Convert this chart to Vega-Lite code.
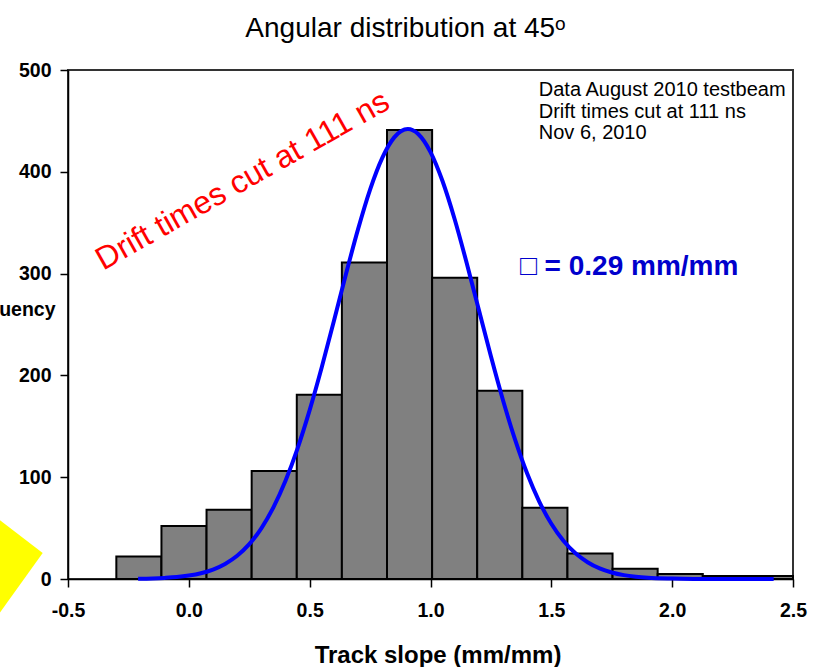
{
  "$schema": "https://vega.github.io/schema/vega-lite/v6.json",
  "autosize": "none",
  "width": 725,
  "height": 509,
  "padding": {"left": 68, "top": 70, "right": 28, "bottom": 88},
  "title": {
    "text": "Angular distribution at 45ᵒ",
    "font": "Liberation Sans",
    "fontSize": 28,
    "fontWeight": "normal",
    "color": "#000000",
    "anchor": "middle",
    "frame": "group",
    "baseline": "alphabetic",
    "dx": -25,
    "offset": -5
  },
  "config": {
    "font": "Liberation Sans",
    "view": {"stroke": "#333333", "strokeWidth": 2},
    "axis": {"grid": false, "labelFlush": false, "labelOverlap": false, "domainColor": "#000000", "domainWidth": 1.5, "tickColor": "#000000", "tickWidth": 1.5, "tickSize": 8, "labelFont": "Liberation Sans", "labelFontWeight": "bold", "labelFontSize": 19.5, "labelColor": "#000000", "titleFont": "Liberation Sans", "titleFontWeight": "bold", "titleColor": "#000000"}
  },
  "datasets": {
    "bars": [
      {"start": -0.3, "end": -0.1133, "count": 22},
      {"start": -0.1133, "end": 0.0733, "count": 52},
      {"start": 0.0733, "end": 0.26, "count": 68},
      {"start": 0.26, "end": 0.4467, "count": 106},
      {"start": 0.4467, "end": 0.6333, "count": 181},
      {"start": 0.6333, "end": 0.82, "count": 311},
      {"start": 0.82, "end": 1.0067, "count": 441},
      {"start": 1.0067, "end": 1.1933, "count": 296},
      {"start": 1.1933, "end": 1.38, "count": 185},
      {"start": 1.38, "end": 1.5667, "count": 70},
      {"start": 1.5667, "end": 1.7533, "count": 25},
      {"start": 1.7533, "end": 1.94, "count": 10},
      {"start": 1.94, "end": 2.1267, "count": 5},
      {"start": 2.1267, "end": 2.3133, "count": 3},
      {"start": 2.3133, "end": 2.5, "count": 3}
    ],
    "fit": [
      {"x": -0.21, "y": 0.3}, {"x": -0.15, "y": 0.6}, {"x": -0.1, "y": 1.1}, {"x": -0.05, "y": 1.9},
      {"x": 0.0, "y": 3.4}, {"x": 0.05, "y": 5.7}, {"x": 0.1, "y": 9.3}, {"x": 0.15, "y": 14.8},
      {"x": 0.2, "y": 22.8}, {"x": 0.25, "y": 34.2}, {"x": 0.3, "y": 49.8}, {"x": 0.35, "y": 70.4},
      {"x": 0.4, "y": 96.5}, {"x": 0.45, "y": 128.4}, {"x": 0.5, "y": 165.9}, {"x": 0.55, "y": 208.0},
      {"x": 0.6, "y": 253.3}, {"x": 0.65, "y": 299.4}, {"x": 0.7, "y": 343.4}, {"x": 0.75, "y": 382.5},
      {"x": 0.8, "y": 413.4}, {"x": 0.85, "y": 433.8}, {"x": 0.906, "y": 442.0}, {"x": 0.95, "y": 436.9},
      {"x": 1.0, "y": 419.4}, {"x": 1.05, "y": 390.7}, {"x": 1.1, "y": 353.4}, {"x": 1.15, "y": 310.2},
      {"x": 1.2, "y": 264.4}, {"x": 1.25, "y": 218.7}, {"x": 1.3, "y": 175.6}, {"x": 1.35, "y": 136.9},
      {"x": 1.4, "y": 103.6}, {"x": 1.45, "y": 76.1}, {"x": 1.5, "y": 54.2}, {"x": 1.55, "y": 37.5},
      {"x": 1.6, "y": 25.2}, {"x": 1.65, "y": 16.5}, {"x": 1.7, "y": 10.4}, {"x": 1.75, "y": 6.4},
      {"x": 1.8, "y": 3.8}, {"x": 1.85, "y": 2.2}, {"x": 1.9, "y": 1.2}, {"x": 2.0, "y": 0.4},
      {"x": 2.1, "y": 0.1}, {"x": 2.2, "y": 0.0}, {"x": 2.42, "y": 0.0}
    ],
    "info": [
      {"x": 1.448, "y": 474.5, "label": "Data August 2010 testbeam"},
      {"x": 1.448, "y": 453.2, "label": "Drift times cut at 111 ns"},
      {"x": 1.448, "y": 432.0, "label": "Nov 6, 2010"}
    ],
    "sigma": [{"x": 1.37, "y": 298.6, "label": "□ = 0.29 mm/mm"}],
    "cut": [{"x": 0.243, "y": 383, "label": "Drift times cut at 111 ns"}],
    "deco": [{"x": -0.6047, "y": 25.5}]
  },
  "layer": [
    {
      "data": {"name": "bars"},
      "mark": {"type": "bar", "fill": "#808080", "stroke": "#000000", "strokeWidth": 2},
      "encoding": {
        "x": {"field": "start", "type": "quantitative", "scale": {"domain": [-0.5, 2.5], "nice": false, "zero": false},
          "axis": {"values": [-0.5, 0, 0.5, 1, 1.5, 2, 2.5], "format": ".1f", "labelExpr": "replace(datum.label, '−', '-')", "labelPadding": 14, "title": "Track slope (mm/mm)", "titleFontSize": 24, "titleX": 369.5, "titleY": 83, "titleBaseline": "alphabetic", "titleAnchor": null, "titleAlign": "center"}},
        "x2": {"field": "end"},
        "y": {"field": "count", "type": "quantitative", "scale": {"domain": [0, 500], "nice": false},
          "axis": {"values": [0, 100, 200, 300, 400, 500], "labelPadding": 9, "title": "Frequency", "titleFontSize": 19.5, "titleAngle": 0, "titleAlign": "right", "titleBaseline": "alphabetic", "titleX": -13, "titleY": 245}},
        "y2": {"datum": 0}
      }
    },
    {
      "data": {"name": "fit"},
      "mark": {"type": "line", "color": "#0000FF", "strokeWidth": 4, "interpolate": "monotone"},
      "encoding": {
        "x": {"field": "x", "type": "quantitative"},
        "y": {"field": "y", "type": "quantitative"}
      }
    },
    {
      "data": {"name": "info"},
      "mark": {"type": "text", "align": "left", "baseline": "alphabetic", "fontSize": 20, "color": "#000000"},
      "encoding": {
        "x": {"field": "x", "type": "quantitative"},
        "y": {"field": "y", "type": "quantitative"},
        "text": {"field": "label"}
      }
    },
    {
      "data": {"name": "sigma"},
      "mark": {"type": "text", "align": "left", "baseline": "alphabetic", "fontSize": 28, "fontWeight": "bold", "color": "#0000CC"},
      "encoding": {
        "x": {"field": "x", "type": "quantitative"},
        "y": {"field": "y", "type": "quantitative"},
        "text": {"field": "label"}
      }
    },
    {
      "data": {"name": "cut"},
      "mark": {"type": "text", "align": "center", "baseline": "alphabetic", "fontSize": 32, "angle": -29.5, "color": "#FF0000"},
      "encoding": {
        "x": {"field": "x", "type": "quantitative"},
        "y": {"field": "y", "type": "quantitative"},
        "text": {"field": "label"}
      }
    },
    {
      "data": {"name": "deco"},
      "mark": {"type": "point", "shape": "M0,0L-2,-1.534L-2,2.79Z", "size": 3600, "filled": true, "fill": "#FFFF00", "opacity": 1, "strokeWidth": 0, "clip": false},
      "encoding": {
        "x": {"field": "x", "type": "quantitative"},
        "y": {"field": "y", "type": "quantitative"}
      }
    }
  ]
}
